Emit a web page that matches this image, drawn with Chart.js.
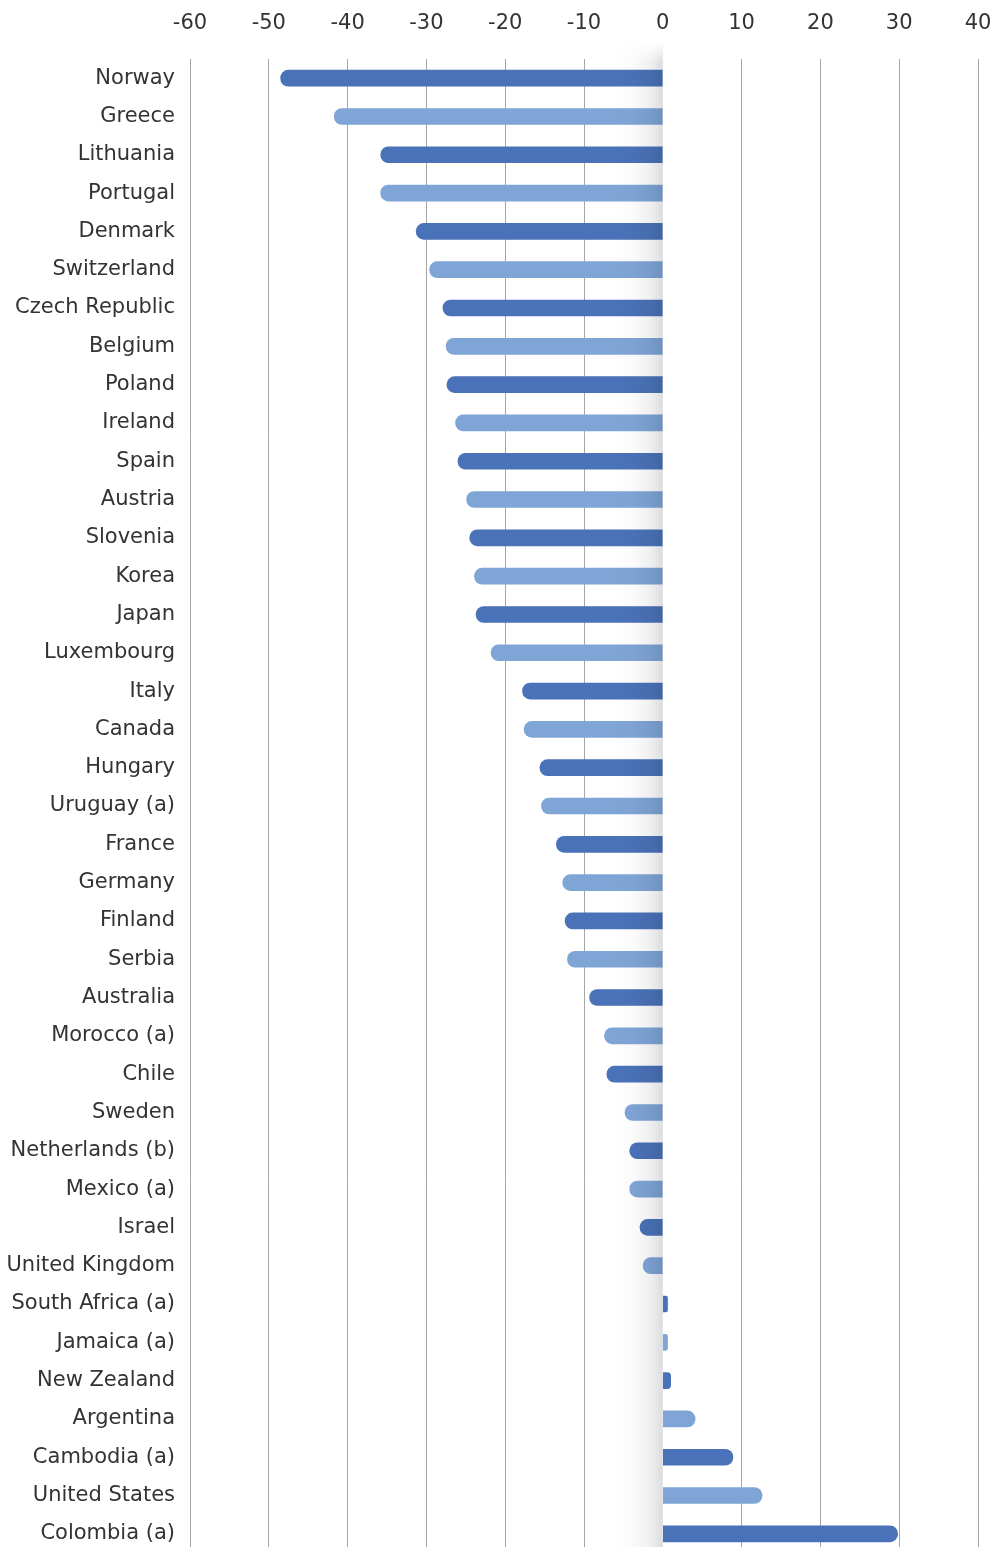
<!DOCTYPE html>
<html>
<head>
<meta charset="utf-8">
<script src="https://cdn.jsdelivr.net/npm/chart.js@4/dist/chart.umd.min.js"></script>
<style>
  html, body { margin: 0; padding: 0; background: #fff; overflow: hidden; }
  #wrap { width: 994px; height: 1553px; }
</style>
</head>
<body>
<div id="wrap"><canvas id="chart"></canvas></div>
<script>
const countries = [
  "Norway", "Greece", "Lithuania", "Portugal", "Denmark", "Switzerland",
  "Czech Republic", "Belgium", "Poland", "Ireland", "Spain", "Austria",
  "Slovenia", "Korea", "Japan", "Luxembourg", "Italy", "Canada", "Hungary",
  "Uruguay (a)", "France", "Germany", "Finland", "Serbia", "Australia",
  "Morocco (a)", "Chile", "Sweden", "Netherlands (b)", "Mexico (a)", "Israel",
  "United Kingdom", "South Africa (a)", "Jamaica (a)", "New Zealand",
  "Argentina", "Cambodia (a)", "United States", "Colombia (a)"
];

const changes = [
  -48.5, -41.7, -35.8, -35.8, -31.3, -29.6,
  -27.9, -27.5, -27.4, -26.3, -26.0, -24.9,
  -24.5, -23.9, -23.7, -21.8, -17.8, -17.6, -15.6,
  -15.4, -13.5, -12.7, -12.4, -12.1, -9.3,
  -7.4, -7.1, -4.8, -4.2, -4.2, -2.9,
  -2.5, 0.6, 0.6, 1.0,
  4.1, 8.9, 12.6, 29.8
];

const AXIS_MIN = -60;
const AXIS_MAX = 40;
const AXIS_STEP = 10;

const DARK_BLUE = "#4a72b8";
const LIGHT_BLUE = "#7fa5d6";
const TEXT_COLOR = "#333333";
const FONT = "'DejaVu Sans', Verdana, sans-serif";

// grey fade just left of zero, drawn over the bars
const zeroShadow = {
  id: "zeroShadow",
  afterDatasetsDraw(chart) {
    const { ctx, chartArea, scales } = chart;
    const x0 = scales.x.getPixelForValue(0);
    const x1 = x0 - 48;
    const top = chartArea.top - 16;

    ctx.save();
    const g = ctx.createLinearGradient(x1, 0, x0, 0);
    g.addColorStop(0, "rgba(20,25,40,0)");
    g.addColorStop(0.4, "rgba(20,25,40,0.02)");
    g.addColorStop(0.75, "rgba(20,25,40,0.07)");
    g.addColorStop(1, "rgba(20,25,40,0.15)");
    ctx.fillStyle = g;
    ctx.fillRect(x1, top, x0 - x1, chartArea.bottom - top);

    const v = ctx.createLinearGradient(0, top, 0, chartArea.top + 4);
    v.addColorStop(0, "rgba(255,255,255,1)");
    v.addColorStop(1, "rgba(255,255,255,0)");
    ctx.fillStyle = v;
    ctx.fillRect(x1, top, x0 - x1, chartArea.top + 4 - top);
    ctx.restore();
  }
};

new Chart(document.getElementById("chart"), {
  type: "bar",
  data: {
    labels: countries,
    datasets: [{
      data: changes,
      backgroundColor: changes.map((_, i) => i % 2 === 0 ? DARK_BLUE : LIGHT_BLUE),
      barThickness: 16,
      borderRadius: 8,
      borderSkipped: "start"
    }]
  },
  options: {
    indexAxis: "y",
    responsive: true,
    maintainAspectRatio: false,
    animation: false,
    layout: { padding: { left: 0, right: 16, top: 0, bottom: 0 } },
    plugins: {
      legend: { display: false },
      tooltip: { enabled: false }
    },
    scales: {
      x: {
        position: "top",
        min: AXIS_MIN,
        max: AXIS_MAX,
        afterFit: scale => {
          scale.height = 59;
          scale.paddingLeft = 0;
          scale.paddingRight = 0;
        },
        ticks: {
          stepSize: AXIS_STEP,
          padding: 23,
          color: TEXT_COLOR,
          font: { family: FONT, size: 21 }
        },
        grid: {
          drawTicks: false,
          color: context => context.tick && context.tick.value === 0 ? "rgba(0,0,0,0)" : "#a6a6a6",
          lineWidth: 1
        },
        border: { display: false }
      },
      y: {
        afterFit: scale => {
          scale.width = 190;
          scale.paddingTop = 0;
          scale.paddingBottom = 0;
        },
        ticks: {
          autoSkip: false,
          padding: 15,
          color: TEXT_COLOR,
          font: { family: FONT, size: 21 }
        },
        grid: { display: false, drawTicks: false },
        border: { display: false }
      }
    }
  },
  plugins: [zeroShadow]
});
</script>
</body>
</html>
